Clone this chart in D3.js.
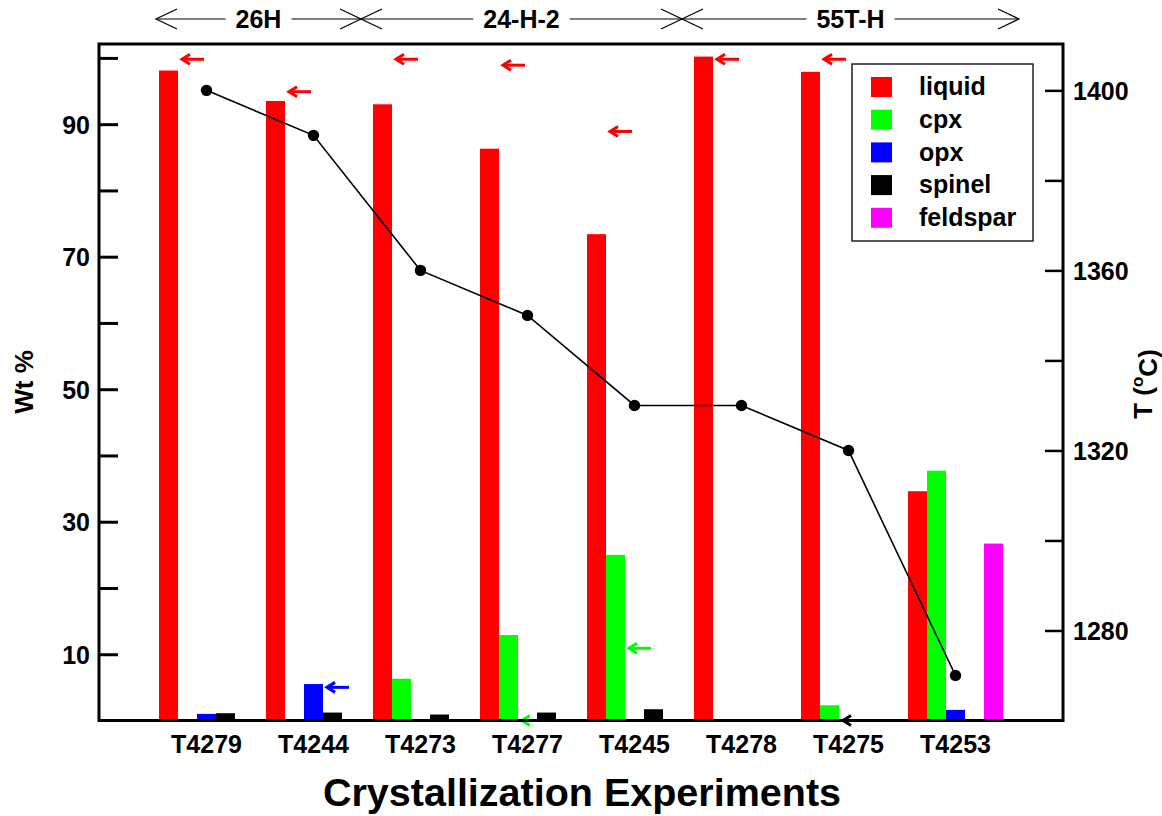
<!DOCTYPE html>
<html>
<head>
<meta charset="utf-8">
<script src="https://cdn.jsdelivr.net/npm/d3@7/dist/d3.min.js"></script>
<style>
  html, body { margin: 0; padding: 0; background: #fff; }
  svg text { font-family: "Liberation Sans", Arial, Helvetica, sans-serif; font-weight: bold; fill: #000; }
</style>
</head>
<body>
<svg id="chart" width="1162" height="816"></svg>
<script>
// Experiments and their starting compositions
const experiments = ["T4279", "T4244", "T4273", "T4277", "T4245", "T4278", "T4275", "T4253"];
const compositions = [
  { name: "26H",    members: ["T4279", "T4244"] },
  { name: "24-H-2", members: ["T4273", "T4277", "T4245"] },
  { name: "55T-H",  members: ["T4278", "T4275", "T4253"] }
];

// Phase proportions (wt %) per experiment, same order as experiments
const phases = ["liquid", "cpx", "opx", "spinel", "feldspar"];
const phaseColors = ["#ff0000", "#00ff00", "#0000ff", "#000000", "#ff00ff"];
const liquid   = [98.1, 93.5, 93.0, 86.3, 73.4, 100.2, 97.9, 34.6];
const cpx      = [0,    0,    6.3,  12.9, 25.0, 0,     2.3,  37.7];
const opx      = [1.0,  5.5,  0,    0,    0,    0,     0,    1.6];
const spinel   = [1.1,  1.2,  0.9,  1.2,  1.7,  0,     0,    0];
const feldspar = [0,    0,    0,    0,    0,    0,     0,    26.7];

// Run temperature (°C) per experiment
const temperature = [1400, 1390, 1360, 1350, 1330, 1330, 1320, 1270];

// Calculated phase proportions shown as arrows beside the bars
const calcExp    = ["T4279", "T4244", "T4273", "T4277", "T4245", "T4278", "T4275", "T4244", "T4277", "T4245", "T4275"];
const calcPhase  = ["liquid", "liquid", "liquid", "liquid", "liquid", "liquid", "liquid", "opx", "cpx", "cpx", "spinel"];
const calcBeside = ["liquid", "liquid", "liquid", "liquid", "liquid", "liquid", "liquid", "opx", "cpx", "cpx", "cpx"];
const calcValue  = [99.8, 94.9, 99.8, 98.9, 88.9, 99.8, 99.8, 5.0, 0, 10.9, 0];

// Axis ticks
const wtTicks = [10, 20, 30, 40, 50, 60, 70, 80, 90, 100];
const wtLabels = [10, 30, 50, 70, 90];
const tTicks = [1280, 1300, 1320, 1340, 1360, 1380, 1400];
const tLabels = [1280, 1320, 1360, 1400];

const phaseData = { liquid, cpx, opx, spinel, feldspar };

const svg = d3.select("#chart");
const plot = { left: 99, right: 1063, top: 44, bottom: 720.5 };

const x0 = d3.scaleBand().domain(experiments)
  .range([plot.left, plot.right])
  .paddingInner(12 / 107).paddingOuter(0.5607);
const x1 = d3.scaleBand().domain(phases).range([0, x0.bandwidth()]);
const y = d3.scaleLinear().domain([0, 102.1]).range([plot.bottom, plot.top]);
const yT = d3.scaleLinear().domain([1260, 1410.3]).range([plot.bottom, plot.top]);
const color = d3.scaleOrdinal().domain(phases).range(phaseColors);

// Bars
const groups = svg.append("g").selectAll("g")
  .data(experiments).join("g")
  .attr("transform", d => `translate(${x0(d)},0)`);
groups.selectAll("rect")
  .data((d, i) => phases.map(p => ({ phase: p, value: phaseData[p][i] })))
  .join("rect")
  .attr("x", d => x1(d.phase))
  .attr("width", x1.bandwidth())
  .attr("y", d => y(d.value))
  .attr("height", d => Math.max(0, y(0) - y(d.value)))
  .attr("fill", d => color(d.phase));

// Calculated-value arrows
const calc = calcExp.map((e, i) => ({ exp: e, phase: calcPhase[i], beside: calcBeside[i], value: calcValue[i] }));
const arrowG = svg.append("g");
calc.forEach(c => {
  const tip = x0(c.exp) + x1(c.beside) + x1.bandwidth() + 3;
  const yy = y(c.value);
  const col = color(c.phase);
  const g = arrowG.append("g")
    .attr("stroke", col).attr("stroke-width", 3).attr("fill", "none")
    .attr("stroke-linecap", "butt");
  g.append("line").attr("x1", tip + 1).attr("y1", yy).attr("x2", tip + 23).attr("y2", yy);
  g.append("path").attr("d", `M${tip + 9},${yy - 5} L${tip + 1},${yy} L${tip + 9},${yy + 5}`);
});

// Temperature line with points
const tPts = experiments.map((e, i) => [x0(e) + x0.bandwidth() / 2, yT(temperature[i])]);
svg.append("path")
  .attr("d", d3.line()(tPts))
  .attr("fill", "none").attr("stroke", "#000").attr("stroke-width", 1.6);
svg.append("g").selectAll("circle")
  .data(tPts).join("circle")
  .attr("cx", d => d[0]).attr("cy", d => d[1]).attr("r", 5.7)
  .attr("fill", "#000");

// Left axis (wt %)
const axL = svg.append("g").attr("transform", `translate(${plot.left},0)`)
  .call(d3.axisLeft(y).tickValues(wtTicks).tickSize(-19).tickPadding(9)
    .tickFormat(d => wtLabels.includes(d) ? d : ""));
axL.select(".domain").remove();
axL.selectAll(".tick line").attr("stroke", "#000").attr("stroke-width", 3);
axL.selectAll(".tick text").style("font-size", "25px").attr("dy", "0.36em");

// Right axis (temperature)
const axR = svg.append("g").attr("transform", `translate(${plot.right},0)`)
  .call(d3.axisRight(yT).tickValues(tTicks).tickSize(-18).tickPadding(10)
    .tickFormat(d => tLabels.includes(d) ? d : ""));
axR.select(".domain").remove();
axR.selectAll(".tick line").attr("stroke", "#000").attr("stroke-width", 2.5);
axR.selectAll(".tick text").style("font-size", "25px").attr("dy", "0.36em");

// Plot frame
svg.append("rect")
  .attr("x", plot.left).attr("y", plot.top)
  .attr("width", plot.right - plot.left).attr("height", plot.bottom - plot.top)
  .attr("fill", "none").attr("stroke", "#000").attr("stroke-width", 3);

// Category labels
svg.append("g").selectAll("text")
  .data(experiments).join("text")
  .attr("x", d => x0(d) + x0.bandwidth() / 2)
  .attr("y", 753)
  .attr("text-anchor", "middle")
  .style("font-size", "25px")
  .text(d => d);

// Axis titles
svg.append("text")
  .attr("x", 582).attr("y", 806)
  .attr("text-anchor", "middle")
  .style("font-size", "39.5px")
  .text("Crystallization Experiments");

svg.append("text")
  .attr("transform", `translate(33,382) rotate(-90)`)
  .attr("text-anchor", "middle")
  .style("font-size", "26px")
  .text("Wt %");

const tTitle = svg.append("text")
  .attr("transform", `translate(1152,384) rotate(-90)`)
  .attr("text-anchor", "middle")
  .style("font-size", "26px");
tTitle.append("tspan").text("T (");
tTitle.append("tspan").attr("dy", "-0.55em").style("font-size", "17px").text("o");
tTitle.append("tspan").attr("dy", "0.55em").text("C)");

// Starting-composition spans across the top
const hy = 19;
const bounds = compositions.map((c, i) => {
  const first = c.members[0], last = c.members[c.members.length - 1];
  const start = i === 0 ? x0(first) - 3 : null;
  const end = x0(last) + x0.bandwidth() + (i === compositions.length - 1 ? 16 : 0);
  return { name: c.name, start, end };
});
bounds.forEach((b, i) => { if (b.start === null) b.start = bounds[i - 1].end; });

const hdr = svg.append("g").attr("stroke", "#000").attr("stroke-width", 1.2).attr("fill", "none");
bounds.forEach(b => {
  const cx = (b.start + b.end) / 2;
  const t = svg.append("text")
    .attr("x", cx).attr("y", 28)
    .attr("text-anchor", "middle")
    .style("font-size", "25px")
    .text(b.name);
  const w = t.node().getComputedTextLength();
  hdr.append("line").attr("x1", b.start).attr("y1", hy).attr("x2", cx - w / 2 - 10).attr("y2", hy);
  hdr.append("line").attr("x1", cx + w / 2 + 10).attr("y1", hy).attr("x2", b.end).attr("y2", hy);
  // open arrowheads at both ends of each span
  hdr.append("path").attr("d", `M${b.start + 21},${hy - 10} L${b.start},${hy} L${b.start + 21},${hy + 10}`);
  hdr.append("path").attr("d", `M${b.end - 21},${hy - 10} L${b.end},${hy} L${b.end - 21},${hy + 10}`);
});

// Legend
const lg = svg.append("g");
lg.append("rect")
  .attr("x", 852).attr("y", 64).attr("width", 181).attr("height", 177)
  .attr("fill", "#fff").attr("stroke", "#222").attr("stroke-width", 1.5);
phases.forEach((p, i) => {
  const cy = 87 + i * 32.7;
  lg.append("rect").attr("x", 871).attr("y", cy - 10).attr("width", 21).attr("height", 20)
    .attr("fill", color(p));
  lg.append("text").attr("x", 919).attr("y", cy).attr("dy", "0.33em")
    .style("font-size", "25px").text(p);
});
</script>
</body>
</html>
